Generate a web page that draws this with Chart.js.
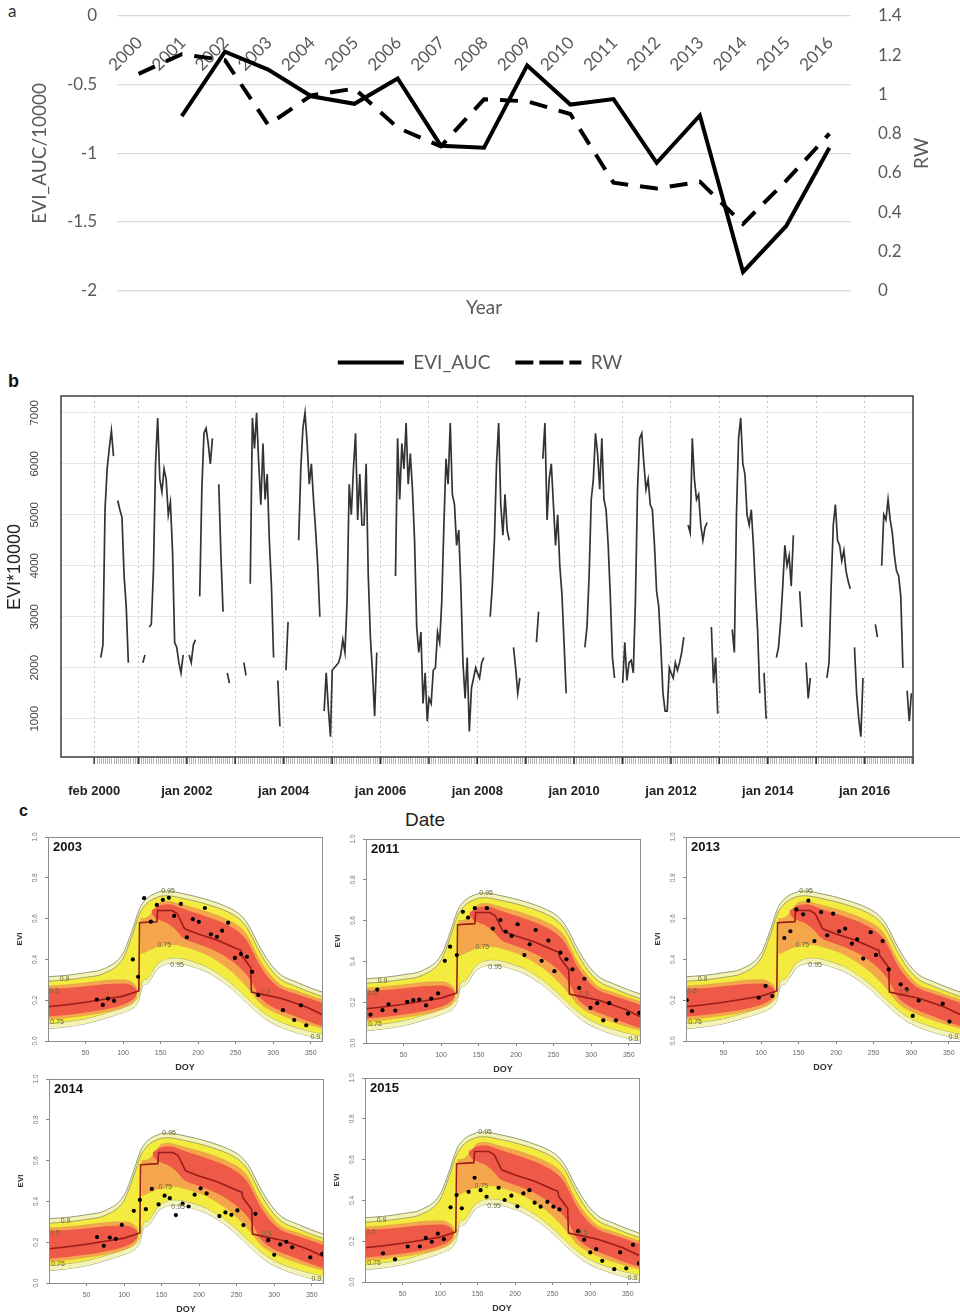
<!DOCTYPE html>
<html><head><meta charset="utf-8">
<script src="https://cdn.jsdelivr.net/npm/chart.js@4.4.1/dist/chart.umd.min.js"></script>
<style>
html,body{margin:0;padding:0;background:#fff;}
body{width:960px;height:1314px;overflow:hidden;position:relative;}
canvas{position:absolute;}
.t{position:absolute;white-space:nowrap;}
</style></head><body>
<div class="t" style="left:8px;top:0px;font:17px Lato;color:#333">a</div>
<div class="t" style="left:8px;top:371px;font:bold 18px 'Liberation Sans';color:#111">b</div>
<div class="t" style="left:19px;top:802px;font:bold 16px 'Liberation Sans';color:#111">c</div>
<div class="t" style="left:405px;top:809px;font:19px 'Liberation Sans';color:#222">Date</div>
<canvas id="ca" width="960" height="382" style="left:0;top:0"></canvas>
<canvas id="cb" width="960" height="452" style="left:0;top:380px"></canvas>
<script>
// ---------------- Panel a data ----------------
const years = ['2000','2001','2002','2003','2004','2005','2006','2007','2008','2009','2010','2011','2012','2013','2014','2015','2016'];
const eviAuc = [null,-0.73,-0.26,-0.39,-0.585,-0.64,-0.455,-0.945,-0.96,-0.36,-0.645,-0.605,-1.07,-0.725,-1.865,-1.53,-0.96];
const rw = [1.105,1.205,1.175,0.845,0.995,1.03,0.83,0.735,0.975,0.965,0.9,0.55,0.52,0.555,0.34,0.56,0.8];
const aLeftTitle = 'EVI_AUC/10000';
const aRightTitle = 'RW';
const aXTitle = 'Year';

// ---------------- Panel b data (EVI*10000, 16-day steps) ----------------
const evi2000 = [null,null,null,null,null,2200,2450,5100,5900,6300,6650,6150,null,5280,5100,4950,3800,3200,2100,null,null,null,null];
const evi2001 = [null,null,2100,2250,null,2800,2850,3900,6000,6900,5700,5450,5900,5700,5000,5250,4300,2500,2400,2100,1900,2250,null];
const evi2002 = [null,2250,2100,2450,2550,null,3400,5500,6600,6700,6400,6000,6500,null,null,5600,4200,3100,null,1900,1700,null,null];
const evi2003 = [null,null,null,null,2100,1850,null,3650,6900,6300,7000,6000,5200,6400,5300,5800,4500,3600,2200,null,1750,850,null];
const evi2004 = [null,1950,2900,null,null,null,null,4500,5900,6700,7000,6400,5600,6000,5300,4700,4000,3000,null,1150,1900,1200,650];
const evi2005 = [1950,2000,2050,2100,2250,2550,2300,3300,5600,5000,5900,6600,4900,5800,4800,4800,6000,3800,2600,1900,1050,2300,null];
const evi2006 = [null,null,null,null,null,null,null,3800,6500,5300,6400,5900,6800,5600,6200,5500,4500,2800,2300,2700,1300,1900,950];
const evi2007 = [1400,1300,1950,2000,2700,2500,3300,4800,6100,5600,6800,5400,5200,4400,4700,3600,2100,1400,2200,750,1600,1800,2000];
const evi2008 = [1900,1800,2100,2200,null,null,3000,3600,4500,6000,6800,5200,4600,5400,4700,4500,null,2400,2000,1500,1800,null,null];
const evi2009 = [null,null,null,null,null,2500,3100,null,6100,6800,4900,5700,6000,5200,4400,5000,4000,3450,2500,1500,null,null,null];
const evi2010 = [null,null,null,null,null,2400,2800,3800,5300,5700,6600,6200,5500,6500,5300,5100,4400,3400,2200,1800,null,null,null];
const evi2011 = [1700,2500,1750,2100,2150,1900,3300,5500,6500,6600,6000,5500,5700,5200,5100,4400,3500,3200,2400,1500,1150,1150,2000];
const evi2012 = [1900,1800,2100,1950,2100,2300,2600,null,4800,4650,6500,5700,5300,5400,4800,4500,4750,4850,null,2800,1700,2200,1100];
const evi2013 = [null,null,null,null,null,null,2750,2300,5000,6500,6900,6000,5800,5000,4800,5100,4400,3500,2700,1500,null,1900,1000];
const evi2014 = [null,null,null,null,2200,2400,2900,3600,4400,4000,4200,3600,4600,null,null,3500,2800,null,2100,1400,1800,null,null];
const evi2015 = [null,null,null,null,null,1800,2100,3600,4800,5200,4500,4400,4100,4300,3900,3700,3550,null,2400,1500,1000,650,1800];
const evi2016 = [null,null,null,null,null,2850,2600,null,4000,5000,4900,5300,4900,4650,4200,3900,3800,3400,2000,null,1550,950,1500];
const bYears = [2000,2001,2002,2003,2004,2005,2006,2007,2008,2009,2010,2011,2012,2013,2014,2015,2016];
const bSeries = [evi2000,evi2001,evi2002,evi2003,evi2004,evi2005,evi2006,evi2007,evi2008,evi2009,evi2010,evi2011,evi2012,evi2013,evi2014,evi2015,evi2016];
const bTickVals = [2000.085,2001,2002,2003,2004,2005,2006,2007,2008,2009,2010,2011,2012,2013,2014,2015,2016,2017];
const bTickLabels = ['feb 2000','','jan 2002','','jan 2004','','jan 2006','','jan 2008','','jan 2010','','jan 2012','','jan 2014','','jan 2016',''];
const bYTicks = [1000,2000,3000,4000,5000,6000,7000];
const bYTitle = 'EVI*10000';

// ---------------- Panel c data ----------------
const doyGrid = [0,25,50,75,100,110,116,119,121,123,126,132,138,144,150,160,170,180,195,210,225,240,255,265,272,280,295,310,330,350,365];
const q95Hi = [0.315,0.322,0.335,0.355,0.43,0.52,0.585,0.62,0.64,0.658,0.675,0.70,0.715,0.725,0.733,0.735,0.73,0.722,0.71,0.695,0.677,0.655,0.622,0.58,0.535,0.475,0.385,0.325,0.29,0.26,0.24];
const q95Lo = [0.06,0.07,0.085,0.11,0.14,0.155,0.17,0.185,0.2,0.23,0.27,0.28,0.31,0.345,0.365,0.38,0.383,0.378,0.362,0.342,0.31,0.27,0.222,0.185,0.163,0.135,0.095,0.068,0.042,0.022,0.01];
const q90Hi = [0.293,0.3,0.312,0.332,0.405,0.495,0.56,0.595,0.615,0.633,0.65,0.676,0.692,0.702,0.71,0.712,0.707,0.699,0.687,0.672,0.654,0.632,0.598,0.556,0.51,0.45,0.36,0.302,0.268,0.238,0.218];
const q90Lo = [0.085,0.095,0.11,0.135,0.165,0.18,0.195,0.21,0.225,0.255,0.295,0.305,0.335,0.37,0.39,0.405,0.408,0.403,0.387,0.367,0.335,0.295,0.247,0.21,0.188,0.16,0.12,0.093,0.067,0.047,0.035];
const q75Hi = [0.27,0.276,0.285,0.297,0.3,0.292,0.275,0.255,null,0.6,0.6,0.605,0.625,0.655,0.68,0.685,0.677,0.667,0.652,0.636,0.616,0.592,0.56,0.52,0.47,0.41,0.33,0.275,0.248,0.222,0.203];
const q75Lo = [0.105,0.113,0.125,0.14,0.162,0.18,0.2,0.225,null,0.43,0.43,0.44,0.45,0.46,0.465,0.472,0.472,0.463,0.447,0.425,0.393,0.355,0.305,0.265,0.235,0.195,0.153,0.128,0.1,0.077,0.062];
const q50Hi = [0.255,0.26,0.268,0.278,0.282,0.275,0.26,0.245,null,null,null,null,0.64,0.655,0.665,0.67,0.662,0.648,0.63,0.612,0.592,0.567,0.532,0.492,0.445,0.385,0.305,0.258,0.232,0.207,0.188];
const q50Lo = [0.12,0.128,0.14,0.155,0.178,0.195,0.215,0.235,null,null,null,null,0.625,0.6,0.59,0.575,0.545,0.505,0.482,0.462,0.437,0.405,0.362,0.322,0.285,0.225,0.175,0.148,0.12,0.092,0.073];
const medX = [0,25,50,75,100,121,122,145,146,165,172,182,200,225,250,257,258,270,271,290,310,330,345,365];
const medY = [0.168,0.178,0.19,0.205,0.22,0.245,0.58,0.585,0.64,0.64,0.625,0.55,0.525,0.495,0.455,0.445,0.42,0.36,0.24,0.225,0.21,0.185,0.165,0.13];
const dots2003X = [65,73,80,88,113,120,128,137,145,153,161,168,177,185,193,201,209,217,225,232,240,249,257,265,272,280,313,328,337,344];
const dots2003Y = [0.203,0.177,0.208,0.197,0.40,0.315,0.70,0.585,0.667,0.692,0.702,0.613,0.672,0.508,0.597,0.584,0.652,0.523,0.511,0.541,0.580,0.407,0.426,0.413,0.339,0.225,0.151,0.103,0.175,0.077];
const dots2011X = [6,15,22,30,39,55,63,71,80,87,96,105,112,121,129,136,145,161,169,179,186,194,202,211,218,226,234,243,251,259,267,275,284,291,299,308,316,324,333,349,364];
const dots2011Y = [0.139,0.262,0.161,0.19,0.159,0.202,0.21,0.213,0.184,0.218,0.243,0.403,0.472,0.431,0.643,0.615,0.661,0.661,0.561,0.603,0.546,0.525,0.582,0.431,0.484,0.554,0.403,0.502,0.352,0.443,0.41,0.361,0.27,0.315,0.172,0.195,0.111,0.195,0.111,0.144,0.148];
const dots2013X = [1,8,97,106,115,131,139,147,156,163,171,180,188,196,204,212,221,228,236,246,253,262,270,286,294,302,310,342,351];
const dots2013Y = [0.2,0.147,0.212,0.27,0.22,0.505,0.538,0.645,0.621,0.688,0.49,0.632,0.518,0.624,0.538,0.551,0.477,0.498,0.404,0.533,0.422,0.49,0.351,0.278,0.253,0.123,0.198,0.183,0.095];
const dots2014X = [64,73,81,89,97,113,121,129,137,146,154,161,169,178,186,194,202,210,227,235,243,251,259,275,292,300,308,316,324,348,364];
const dots2014Y = [0.225,0.182,0.223,0.216,0.285,0.354,0.407,0.362,0.461,0.385,0.428,0.416,0.333,0.389,0.375,0.433,0.464,0.439,0.328,0.346,0.334,0.356,0.284,0.339,0.21,0.138,0.189,0.202,0.175,0.126,0.143];
const dots2015X = [24,40,57,73,81,89,97,105,114,122,129,138,146,154,162,178,186,195,203,211,219,226,234,243,251,259,284,292,300,308,316,332,340,348,357,365];
const dots2015Y = [0.141,0.111,0.174,0.174,0.216,0.197,0.237,0.21,0.366,0.426,0.361,0.442,0.511,0.45,0.418,0.462,0.402,0.423,0.371,0.434,0.45,0.389,0.369,0.393,0.369,0.356,0.249,0.207,0.145,0.161,0.104,0.063,0.145,0.067,0.182,0.091];
const cTicksX = [50,100,150,200,250,300,350];
const cTicksY = [0,0.2,0.4,0.6,0.8,1.0];
const cContourText = ['0.95','0.9','0.5','0.75','0.75','0.95','0.5','0.9'];
const cContourDoy  = [160,22,8,12,155,172,290,356];
const cContourVal  = [0.737,0.302,0.245,0.095,0.47,0.372,0.24,0.02];

// ---------------- Chart a ----------------
const LATO = 'Lato';
const grayTxt = '#595959';
const fmt = v => String(Number(Number(v).toFixed(2)));

const aPlugin = {
  id: 'aPlug',
  beforeDatasetsDraw(chart) {
    const ctx = chart.ctx, xs = chart.scales.x, ca = chart.chartArea;
    ctx.save();
    ctx.fillStyle = grayTxt;
    ctx.font = '17px ' + LATO;
    ctx.textAlign = 'right'; ctx.textBaseline = 'middle';
    years.forEach((t, i) => {
      const x = xs.getPixelForValue(i);
      ctx.save(); ctx.translate(x + 1, 40); ctx.rotate(-Math.PI / 4); ctx.fillText(t, 0, 0); ctx.restore();
    });
    ctx.font = '19px ' + LATO; ctx.textAlign = 'center';
    const cy = (ca.top + ca.bottom) / 2;
    ctx.save(); ctx.translate(40, cy); ctx.rotate(-Math.PI / 2); ctx.fillText(aLeftTitle, 0, 0); ctx.restore();
    ctx.save(); ctx.translate(922, cy); ctx.rotate(-Math.PI / 2); ctx.fillText(aRightTitle, 0, 0); ctx.restore();
    ctx.restore();
  }
};

new Chart(document.getElementById('ca'), {
  type: 'line',
  data: {
    labels: years,
    datasets: [
      {label: 'EVI_AUC', data: eviAuc, yAxisID: 'y', borderColor: '#000', backgroundColor: 'rgba(0,0,0,0)', borderWidth: 4, pointRadius: 0, fill: false, tension: 0},
      {label: 'RW', data: rw, yAxisID: 'y1', borderColor: '#000', backgroundColor: 'rgba(0,0,0,0)', borderWidth: 4, borderDash: [18, 12], pointRadius: 0, fill: false, tension: 0}
    ]
  },
  options: {
    responsive: false, animation: false,
    layout: {padding: {top: 16, bottom: 0, left: 0, right: 0}},
    plugins: {
      tooltip: {enabled: false},
      legend: {position: 'bottom', labels: {boxWidth: 66, boxHeight: 0, padding: 25, color: grayTxt, font: {size: 19, family: LATO}}}
    },
    scales: {
      x: {type: 'category', offset: true, grid: {display: false}, border: {display: false}, ticks: {display: false},
          title: {display: true, text: aXTitle, color: grayTxt, font: {size: 19, family: LATO}, padding: {top: 0, bottom: 9}},
          afterFit: s => { s.height = 37.5; }},
      y: {position: 'left', min: -2, max: 0, ticks: {stepSize: 0.5, padding: 20, color: grayTxt, font: {size: 17, family: LATO}, callback: fmt},
          grid: {color: '#d9d9d9', lineWidth: 1.3, drawTicks: false}, border: {display: false},
          afterFit: s => { s.width = 117; s.paddingTop = 0; s.paddingBottom = 0; }},
      y1: {position: 'right', min: 0, max: 1.4, ticks: {stepSize: 0.2, padding: 19, color: grayTxt, font: {size: 17, family: LATO}, callback: fmt},
          grid: {display: false}, border: {display: false},
          afterFit: s => { s.width = 109; s.paddingTop = 0; s.paddingBottom = 0; }}
    }
  },
  plugins: [aPlugin]
});

// ---------------- Chart b ----------------
const bPoints = [];
const bDates = [];
bYears.forEach((yr, k) => {
  bSeries[k].forEach((v, i) => {
    const d = yr + (i * 16 + 1) / 365.25;
    bPoints.push({x: d, y: v});
    if (!(yr === 2000 && i < 3)) bDates.push(d);
  });
});
const LIB = '"Liberation Sans"';
const bPlugin = {
  id: 'bPlug',
  afterDraw(chart) {
    const {ctx, chartArea: a, scales: {x, y}} = chart;
    ctx.save();
    ctx.strokeStyle = '#b4b4b4'; ctx.lineWidth = 1;
    ctx.beginPath();
    bDates.forEach(d => { const px = Math.round(x.getPixelForValue(d)) + 0.5; ctx.moveTo(px, a.bottom); ctx.lineTo(px, a.bottom + 7); });
    ctx.stroke();
    ctx.strokeStyle = '#333'; ctx.lineWidth = 1.5; ctx.beginPath();
    bTickVals.forEach(v => { const px = x.getPixelForValue(v); ctx.moveTo(px, a.bottom); ctx.lineTo(px, a.bottom + 7); });
    ctx.stroke();
    ctx.strokeStyle = '#4a4a4a'; ctx.lineWidth = 1.6;
    ctx.strokeRect(a.left, a.top, a.right - a.left, a.bottom - a.top);
    ctx.fillStyle = '#444'; ctx.font = '11.5px ' + LIB; ctx.textAlign = 'center'; ctx.textBaseline = 'middle';
    bYTicks.forEach(v => { const py = y.getPixelForValue(v); ctx.save(); ctx.translate(35, py); ctx.rotate(-Math.PI / 2); ctx.fillText(String(v), 0, 0); ctx.restore(); });
    ctx.font = '18px ' + LIB; ctx.fillStyle = '#222';
    ctx.save(); ctx.translate(15, 187); ctx.rotate(-Math.PI / 2); ctx.fillText(bYTitle, 0, 0); ctx.restore();
    ctx.restore();
  }
};
new Chart(document.getElementById('cb'), {
  type: 'line',
  data: {datasets: [{data: bPoints, borderColor: '#333', borderWidth: 1.7, pointRadius: 0, fill: false, spanGaps: false, tension: 0}]},
  options: {
    responsive: false, animation: false,
    layout: {padding: {top: 16, right: 47, left: 0, bottom: 0}},
    plugins: {legend: {display: false}, tooltip: {enabled: false}},
    scales: {
      x: {type: 'linear', min: 1999.4, max: 2017.0,
          afterBuildTicks: s => { s.ticks = bTickVals.map(v => ({value: v})); },
          ticks: {autoSkip: false, maxRotation: 0, minRotation: 0, padding: 27, color: '#222', font: {size: 13, weight: 'bold', family: 'Liberation Sans'},
                  callback: (v, i) => bTickLabels[i]},
          grid: {color: '#c4c4c4', lineWidth: 1, drawTicks: false}, border: {display: false, dash: [2, 3]},
          afterFit: s => { s.height = 75; }},
      y: {min: 250, max: 7330,
          afterBuildTicks: s => { s.ticks = bYTicks.map(v => ({value: v})); },
          ticks: {display: false}, grid: {color: '#e6e6e6', lineWidth: 1, drawTicks: false}, border: {display: false},
          afterFit: s => { s.width = 61; }}
    }
  },
  plugins: [bPlugin]
});

// ---------------- Charts c ----------------
const C = {pale: '#f4f3b6', yellow: '#f3eb3e', orange: '#f5a54c', red: '#ee5a47', contour: '#8f8f6a', med: '#9b1c18'};
const cPlugin = {
  id: 'cPlug',
  afterDatasetsDraw(chart) {
    const {ctx, chartArea: a, scales: {x, y}} = chart;
    const yr = chart.options.plugins.cPlug.year;
    ctx.save();
    ctx.fillStyle = '#6a6a30'; ctx.font = '7px ' + LIB; ctx.textAlign = 'center'; ctx.textBaseline = 'middle';
    cContourText.forEach((t, i) => ctx.fillText(t, x.getPixelForValue(cContourDoy[i]), y.getPixelForValue(cContourVal[i])));
    ctx.strokeStyle = '#8c8c8c'; ctx.lineWidth = 1;
    ctx.strokeRect(a.left + 0.5, a.top + 0.5, a.right - a.left, a.bottom - a.top);
    ctx.fillStyle = '#111'; ctx.font = 'bold 13px ' + LIB; ctx.textAlign = 'left';
    ctx.fillText(yr, a.left + 5, a.top + 10);
    ctx.fillStyle = '#777'; ctx.font = '6.5px ' + LIB; ctx.textAlign = 'center';
    cTicksY.forEach(v => { const py = y.getPixelForValue(v); ctx.save(); ctx.translate(a.left - 13, py); ctx.rotate(-Math.PI / 2); ctx.fillText(v.toFixed(1), 0, 0); ctx.restore(); });
    ctx.fillStyle = '#333'; ctx.font = 'bold 8px ' + LIB;
    ctx.save(); ctx.translate(a.left - 28, (a.top + a.bottom) / 2); ctx.rotate(-Math.PI / 2); ctx.fillText('EVI', 0, 0); ctx.restore();
    ctx.restore();
  }
};
function smallChart(year, dx, dy, plotLeft, plotTop) {
  const cv = document.createElement('canvas');
  cv.width = 48 + 274 + 6; cv.height = 8 + 204 + 34;
  cv.style.left = (plotLeft - 48) + 'px'; cv.style.top = (plotTop - 8) + 'px';
  document.body.appendChild(cv);
  const pts = arr => doyGrid.map((d, i) => ({x: d, y: arr[i]}));
  const band = (arr, fillCol, lineCol, lw, ord, fill) => ({data: pts(arr), borderColor: lineCol, borderWidth: lw, backgroundColor: fillCol,
    fill: fill, pointRadius: 0, cubicInterpolationMode: 'monotone', order: ord, spanGaps: false});
  const none = 'rgba(0,0,0,0)';
  new Chart(cv, {
    type: 'line',
    data: {datasets: [
      band(q95Hi, C.pale, C.contour, 0.9, 9, '+1'),
      band(q95Lo, none, C.contour, 0.9, 9, false),
      band(q90Hi, C.yellow, C.contour, 0.8, 7, '+1'),
      band(q90Lo, none, C.contour, 0.8, 7, false),
      band(q75Hi, C.orange, 'rgba(160,120,60,0.35)', 0.6, 5, '+1'),
      band(q75Lo, none, 'rgba(160,120,60,0.35)', 0.6, 5, false),
      band(q50Hi, C.red, none, 0.5, 3, '+1'),
      band(q50Lo, none, none, 0.5, 3, false),
      {data: medX.map((v, i) => ({x: v, y: medY[i]})), borderColor: C.med, borderWidth: 1.6, pointRadius: 0, fill: false, order: 1, tension: 0},
      {data: dx.map((v, i) => ({x: v, y: dy[i]})), showLine: false, pointRadius: 2.1, backgroundColor: '#000', borderColor: '#000', borderWidth: 0, order: 0}
    ]},
    options: {
      responsive: false, animation: false,
      layout: {padding: {top: 8, right: 6, left: 0, bottom: 0}},
      plugins: {legend: {display: false}, tooltip: {enabled: false}, cPlug: {year: year}},
      scales: {
        x: {type: 'linear', min: 0, max: 365,
            afterBuildTicks: s => { s.ticks = cTicksX.map(v => ({value: v})); },
            ticks: {autoSkip: false, maxRotation: 0, minRotation: 0, padding: 5, color: '#666', font: {size: 7, family: 'Liberation Sans'}},
            grid: {drawOnChartArea: false, drawTicks: true, tickLength: 3, color: '#888'}, border: {display: false},
            title: {display: true, text: 'DOY', color: '#333', font: {size: 9, weight: 'bold', family: 'Liberation Sans'}, padding: {top: 0, bottom: 2}},
            afterFit: s => { s.height = 34; }},
        y: {min: 0, max: 1,
            afterBuildTicks: s => { s.ticks = cTicksY.map(v => ({value: v})); },
            ticks: {display: false},
            grid: {drawOnChartArea: false, drawTicks: true, tickLength: 3, color: '#888'}, border: {display: false},
            afterFit: s => { s.width = 48; }}
      }
    },
    plugins: [cPlugin]
  });
}
smallChart('2003', dots2003X, dots2003Y, 48, 837);
smallChart('2011', dots2011X, dots2011Y, 366, 839);
smallChart('2013', dots2013X, dots2013Y, 686, 837);
smallChart('2014', dots2014X, dots2014Y, 49, 1079);
smallChart('2015', dots2015X, dots2015Y, 365, 1078);
</script>
</body></html>
